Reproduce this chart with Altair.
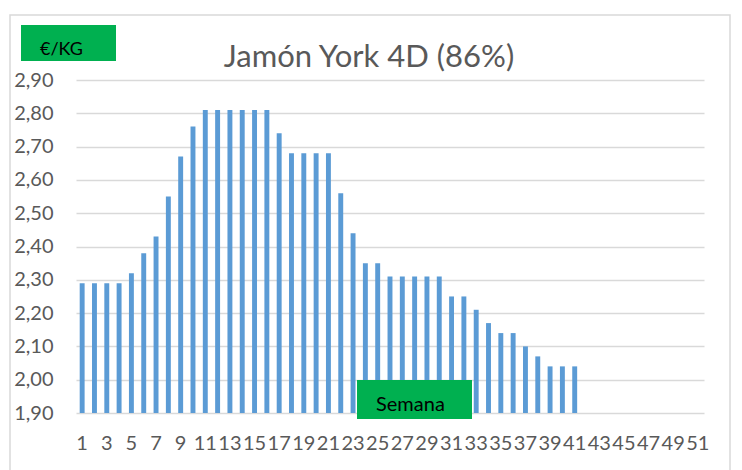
import altair as alt
import pandas as pd

weeks = list(range(1, 52))
prices = [2.29, 2.29, 2.29, 2.29, 2.32, 2.38, 2.43, 2.55, 2.67, 2.76,
          2.81, 2.81, 2.81, 2.81, 2.81, 2.81, 2.74, 2.68, 2.68, 2.68,
          2.68, 2.56, 2.44, 2.35, 2.35, 2.31, 2.31, 2.31, 2.31, 2.31,
          2.25, 2.25, 2.21, 2.17, 2.14, 2.14, 2.10, 2.07, 2.04, 2.04, 2.04]
title_text = "Jamón York 4D (86%)"
y_label = "€/KG"
x_label = "Semana"

df = pd.DataFrame({"week": weeks[:len(prices)], "price": prices})

FONT = "Lato"
GRAY = "#595959"
GRID = "#D9D9D9"
GREEN = "#00B050"

x_enc = alt.X("week:O", scale=alt.Scale(domain=weeks, paddingInner=0.6, paddingOuter=0.3),
              axis=alt.Axis(title=None, labelAngle=0, ticks=False, domain=False,
                            labelExpr="datum.value % 2 == 1 ? datum.label : ''",
                            labelOverlap=False, labelFontSize=20, labelColor=GRAY,
                            labelPadding=20, labelFont=FONT))
y_enc = alt.Y("price:Q", scale=alt.Scale(domain=[1.9, 2.9], zero=False, nice=False),
              axis=alt.Axis(title=None, values=[1.9 + i * 0.1 for i in range(11)],
                            labelExpr="replace(format(datum.value, '.2f'), '.', ',')",
                            ticks=False, domain=False, gridColor=GRID, gridWidth=1.5,
                            labelFontSize=20, labelColor=GRAY, labelPadding=23,
                            labelFont=FONT))

bars = alt.Chart(df).mark_bar(color="#5B9BD5").encode(
    x=x_enc, y=y_enc, y2=alt.datum(1.9))

one = alt.Data(values=[{"a": 1}])

border = alt.Chart(one).mark_rect(fill=None, stroke=GRID, strokeWidth=1.5).encode(
    x=alt.value(-66), x2=alt.value(654), y=alt.value(-65), y2=alt.value(420))

title = alt.Chart(one).mark_text(text=title_text, font=FONT, fontSize=31, color=GRAY,
                                 align="center", baseline="alphabetic").encode(
    x=alt.value(293), y=alt.value(-13))

ybox = alt.Chart(one).mark_rect(fill=GREEN).encode(
    x=alt.value(-55), x2=alt.value(40), y=alt.value(-55), y2=alt.value(-19))
ytext = alt.Chart(one).mark_text(text=y_label, font=FONT, fontSize=18, color="black",
                                 align="left", baseline="alphabetic").encode(
    x=alt.value(-36), y=alt.value(-25))

xbox = alt.Chart(one).mark_rect(fill=GREEN).encode(
    x=alt.value(281), x2=alt.value(396), y=alt.value(300), y2=alt.value(339))
xtext = alt.Chart(one).mark_text(text=x_label, font=FONT, fontSize=20, color="black",
                                 align="left", baseline="alphabetic").encode(
    x=alt.value(300), y=alt.value(331))

chart = alt.layer(border, bars, title, ybox, ytext, xbox, xtext).properties(
    width=628, height=333,
    autosize=alt.AutoSizeParams(type="none"),
    padding={"left": 68, "top": 72, "right": 30, "bottom": 60},
    background="white",
).configure_view(stroke=None)

chart.save("out.html", embed_options={"renderer": "svg", "actions": False})
